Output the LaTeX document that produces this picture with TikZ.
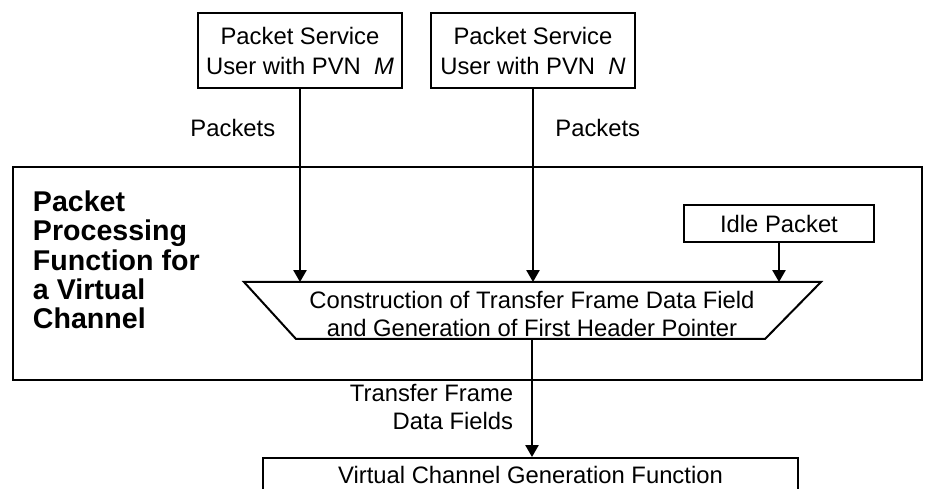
\documentclass[tikz,border=0pt]{standalone}
\usepackage{fontspec}
\setsansfont{Liberation Sans}
\usetikzlibrary{positioning, arrows.meta}

\begin{document}
\begin{tikzpicture}[x=0.42pt, y=-0.42pt, line width=0.84pt,
    font=\sffamily\fontsize{10}{12.6}\selectfont,
    box/.style={draw, inner sep=0pt, align=center},
    arr/.style={-{Triangle[length=5pt,width=5.5pt]}}]
    % 1ピクセルの長さ
    \def\u{0.42pt}

    % 画像の範囲
    \useasboundingbox (0,0) rectangle (925,489);
    \clip (0,0) rectangle (925,489);

    % パケットサービスのユーザ
    \node[box, minimum width=204*\u, minimum height=75*\u] (userm) at (300,50.5) {Packet Service\\User with PVN\ \ \textit{M}};
    \node[box, minimum width=204*\u, minimum height=75*\u] (usern) at (533,50.5) {Packet Service\\User with PVN\ \ \textit{N}};

    % 処理機能の枠
    \draw (13,167) rectangle (922,380);
    \node[anchor=north west, inner sep=0pt, align=left,
        font=\sffamily\bfseries\fontsize{12}{12.3}\selectfont] (title) at (32,190)
        {Packet\\Processing\\Function for\\a Virtual\\Channel};

    % アイドルパケット
    \node[box, minimum width=190*\u, minimum height=37*\u] (idle) at (779,223.5) {Idle Packet};

    % 台形
    \coordinate (tl) at (244,282);
    \coordinate (tr) at (821,282);
    \coordinate (br) at (765,339);
    \coordinate (bl) at (296,339);
    \draw (tl) -- (tr) -- (br) -- (bl) -- cycle;
    \node[align=center, inner sep=0pt, font=\sffamily\fontsize{10}{11.8}\selectfont] (cons) at (532,314)
        {Construction of Transfer Frame Data Field\\and Generation of First Header Pointer};
    \coordinate (out) at (532,339);

    % 仮想チャネル生成機能
    \node[box, anchor=north, minimum width=535*\u, minimum height=33*\u] (vcg) at (530.5,457) {Virtual Channel Generation Function};

    % 矢印
    \draw[arr] (userm.south) -- node[pos=0.2, left=10pt, inner sep=0pt] {Packets} (userm.south |- tl);
    \draw[arr] (usern.south) -- node[pos=0.2, right=9pt, inner sep=0pt] {Packets} (usern.south |- tl);
    \draw[arr] (idle.south) -- (idle.south |- tl);
    \draw[arr] (out) -- node[pos=0.58, left=7.5pt, inner sep=0pt, align=right,
        font=\sffamily\fontsize{10}{11.8}\selectfont] {Transfer Frame\\Data Fields} (out |- vcg.north);
\end{tikzpicture}
\end{document}
